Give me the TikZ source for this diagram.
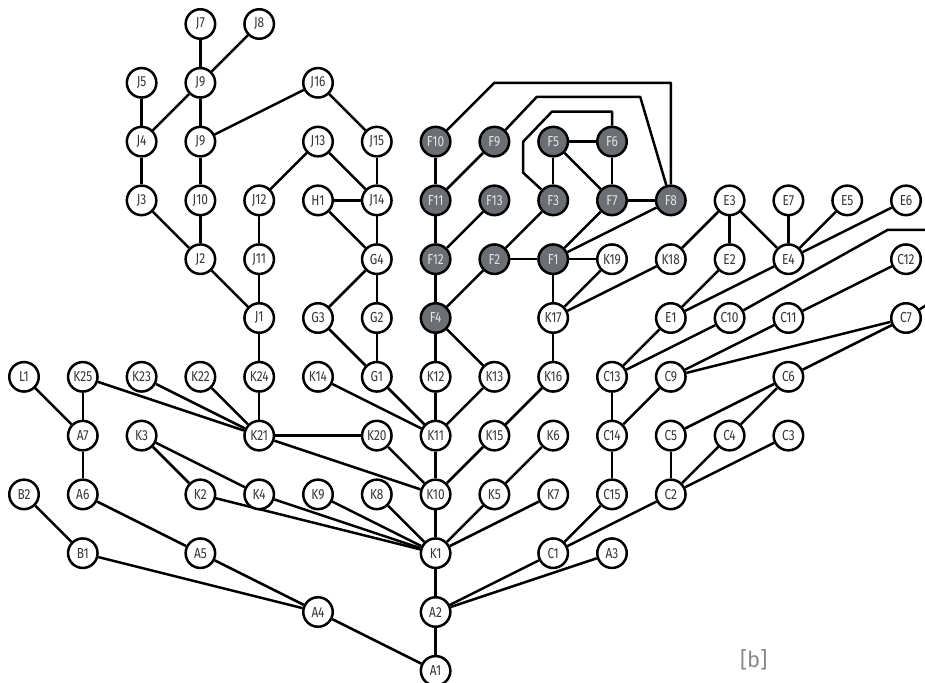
\documentclass[tikz,border=0pt]{standalone}
\usepackage{fontspec}
\newfontfamily\lblfont[FakeStretch=0.82]{Fira Sans}
\newfontfamily\capfont{Fira Sans}
\pgfdeclarelayer{bg}
\pgfsetlayers{bg,main}
\definecolor{txtgray}{HTML}{353535}
\definecolor{fgray}{HTML}{6B6F74}
\definecolor{ftext}{HTML}{E2E4E6}
\definecolor{capgray}{HTML}{8A8A8A}
\begin{document}
\begin{tikzpicture}[x=58.8pt,y=-58.8pt,
  wn/.style={circle, draw=black, line width=2.5pt, fill=white, minimum size=29.5pt, inner sep=0pt,
    font=\lblfont\fontsize{14.5}{14.5}\selectfont, text=txtgray},
  gn/.style={wn, fill=fgray, text=ftext},
  edge/.style={line width=2.5pt, line join=round, draw=black}]
\clip (-0.408,-0.408) rectangle (15.323,11.207);
\useasboundingbox (-0.408,-0.408) rectangle (15.323,11.207);
% row 0
\node[wn] (J7) at (3,0) {J7};
\node[wn] (J8) at (4,0) {J8};
% row 1
\node[wn] (J5) at (2,1) {J5};
\node[wn] (J9a) at (3,1) {J9};
\node[wn] (J16) at (5,1) {J16};
% row 2
\node[wn] (J4) at (2,2) {J4};
\node[wn] (J9b) at (3,2) {J9};
\node[wn] (J13) at (5,2) {J13};
\node[wn] (J15) at (6,2) {J15};
\node[gn] (F10) at (7,2) {F10};
\node[gn] (F9) at (8,2) {F9};
\node[gn] (F5) at (9,2) {F5};
\node[gn] (F6) at (10,2) {F6};
% row 3
\node[wn] (J3) at (2,3) {J3};
\node[wn] (J10) at (3,3) {J10};
\node[wn] (J12) at (4,3) {J12};
\node[wn] (H1) at (5,3) {H1};
\node[wn] (J14) at (6,3) {J14};
\node[gn] (F11) at (7,3) {F11};
\node[gn] (F13) at (8,3) {F13};
\node[gn] (F3) at (9,3) {F3};
\node[gn] (F7) at (10,3) {F7};
\node[gn] (F8) at (11,3) {F8};
\node[wn] (E3) at (12,3) {E3};
\node[wn] (E7) at (13,3) {E7};
\node[wn] (E5) at (14,3) {E5};
\node[wn] (E6) at (15,3) {E6};
% row 4
\node[wn] (J2) at (3,4) {J2};
\node[wn] (J11) at (4,4) {J11};
\node[wn] (G4) at (6,4) {G4};
\node[gn] (F12) at (7,4) {F12};
\node[gn] (F2) at (8,4) {F2};
\node[gn] (F1) at (9,4) {F1};
\node[wn] (K19) at (10,4) {K19};
\node[wn] (K18) at (11,4) {K18};
\node[wn] (E2) at (12,4) {E2};
\node[wn] (E4) at (13,4) {E4};
\node[wn] (C12) at (15,4) {C12};
% row 5
\node[wn] (J1) at (4,5) {J1};
\node[wn] (G3) at (5,5) {G3};
\node[wn] (G2) at (6,5) {G2};
\node[gn] (F4) at (7,5) {F4};
\node[wn] (K17) at (9,5) {K17};
\node[wn] (E1) at (11,5) {E1};
\node[wn] (C10) at (12,5) {C10};
\node[wn] (C11) at (13,5) {C11};
\node[wn] (C7) at (15,5) {C7};
% row 6
\node[wn] (L1) at (0,6) {L1};
\node[wn] (K25) at (1,6) {K25};
\node[wn] (K23) at (2,6) {K23};
\node[wn] (K22) at (3,6) {K22};
\node[wn] (K24) at (4,6) {K24};
\node[wn] (K14) at (5,6) {K14};
\node[wn] (G1) at (6,6) {G1};
\node[wn] (K12) at (7,6) {K12};
\node[wn] (K13) at (8,6) {K13};
\node[wn] (K16) at (9,6) {K16};
\node[wn] (C13) at (10,6) {C13};
\node[wn] (C9) at (11,6) {C9};
\node[wn] (C6) at (13,6) {C6};
% row 7
\node[wn] (A7) at (1,7) {A7};
\node[wn] (K3) at (2,7) {K3};
\node[wn] (K21) at (4,7) {K21};
\node[wn] (K20) at (6,7) {K20};
\node[wn] (K11) at (7,7) {K11};
\node[wn] (K15) at (8,7) {K15};
\node[wn] (K6) at (9,7) {K6};
\node[wn] (C14) at (10,7) {C14};
\node[wn] (C5) at (11,7) {C5};
\node[wn] (C4) at (12,7) {C4};
\node[wn] (C3) at (13,7) {C3};
% row 8
\node[wn] (B2) at (0,8) {B2};
\node[wn] (A6) at (1,8) {A6};
\node[wn] (K2) at (3,8) {K2};
\node[wn] (K4) at (4,8) {K4};
\node[wn] (K9) at (5,8) {K9};
\node[wn] (K8) at (6,8) {K8};
\node[wn] (K10) at (7,8) {K10};
\node[wn] (K5) at (8,8) {K5};
\node[wn] (K7) at (9,8) {K7};
\node[wn] (C15) at (10,8) {C15};
\node[wn] (C2) at (11,8) {C2};
% row 9
\node[wn] (B1) at (1,9) {B1};
\node[wn] (A5) at (3,9) {A5};
\node[wn] (K1) at (7,9) {K1};
\node[wn] (C1) at (9,9) {C1};
\node[wn] (A3) at (10,9) {A3};
% row 10-11
\node[wn] (A4) at (5,10) {A4};
\node[wn] (A2) at (7,10) {A2};
\node[wn] (A1) at (7,11) {A1};
% caption
\node[font=\capfont\fontsize{22}{22}\selectfont, text=capgray, inner sep=0pt] (cap) at (12.41,10.82) {[b]};
% bend coordinates
\coordinate (p10a) at (8,1);
\coordinate (p10b) at (11,1);
\coordinate (p9a) at (8.72,1.24);
\coordinate (p9b) at (10.48,1.24);
\coordinate (p6a) at (10,1.49);
\coordinate (p6b) at (8.98,1.49);
\coordinate (p6c) at (8.49,2.0);
\coordinate (p6d) at (8.49,2.53);
\coordinate (pc10a) at (14.69,3.5);
\coordinate (pc10b) at (15.6,3.5);
\coordinate (pc7) at (15.6,4.62);
\begin{pgfonlayer}{bg}
\foreach \a/\b in {J7/J9a, J8/J9a, J9a/J4, J9a/J9b, J5/J4, J4/J3, J3/J2, J9b/J10, J9b/J16, J10/J2, J2/J1,
  J12/J13, J12/J11, J11/J1, J1/K24, J16/J15, J15/J14, J13/J14, H1/J14, H1/G4, J14/G4, G4/G3, G4/G2,
  G3/G1, G2/G1, G1/K11, K14/K11, K24/K21, K25/K21, K23/K21, K22/K21, K21/K20, K21/K10, K20/K10,
  F4/K12, F4/K13, K12/K11, K13/K11, K11/K10, K15/K10, K16/K15, K17/K16, F1/K17, K19/K17, K18/K17,
  F10/F11, F9/F11, F11/F12, F13/F12, F12/F4, F2/F4, F2/F1, F3/F2, F5/F3, F5/F6, F5/F7, F6/F7, F7/F8,
  F7/F1, F8/F1, F1/K19, E3/K18, E3/E2, E3/E4, E7/E4, E5/E4, E6/E4, E2/E1, E4/E1, E1/C13, C10/C13,
  C13/C14, C9/C14, C11/C9, C11/C12, C7/C9, C7/C6, C6/C5, C6/C4, C14/C15, C15/C1, C5/C2, C4/C2, C3/C2,
  C2/C1, C1/A2, A3/A2, K1/A2, A2/A1, A4/A1, B1/A4, A5/A4, A6/A5, B2/B1, A7/A6, L1/A7, K25/A7,
  K3/K2, K3/K4, K2/K1, K4/K1, K9/K1, K8/K1, K10/K1, K5/K1, K7/K1, K6/K5}
  \draw[edge] (\a) -- (\b);
\draw[edge] (F10) -- (p10a) -- (p10b) -- (F8);
\draw[edge] (F9) -- (p9a) -- (p9b) -- (F8);
\draw[edge] (F6) -- (p6a) -- (p6b) -- (p6c) -- (p6d) -- (F3);
\draw[edge] (C10) -- (pc10a) -- (pc10b);
\draw[edge] (C7) -- (pc7);
\end{pgfonlayer}
\end{tikzpicture}
\end{document}
